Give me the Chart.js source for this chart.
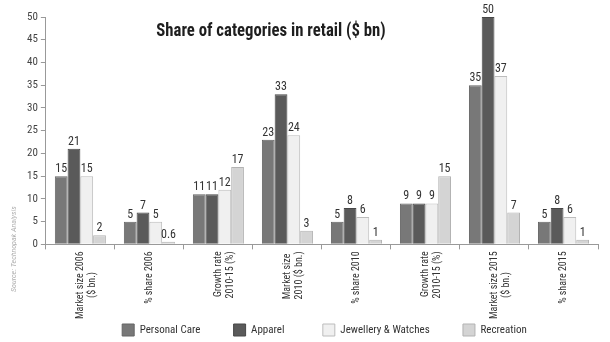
<!DOCTYPE html>
<html>
<head>
<meta charset="utf-8">
<script src="https://cdn.jsdelivr.net/npm/chart.js@4"></script>
<style>
  html, body { margin: 0; padding: 0; background: #fff; }
  #wrap { width: 610px; height: 342px; }
</style>
</head>
<body>
<div id="wrap"><canvas id="myCanvas"></canvas></div>
<script>
'use strict';

let categories = [
  ['Market size 2006', '($ bn.)'],
  '% share 2006',
  ['Growth rate', '2010-15 (%)'],
  ['Market size', '2010 ($ bn.)'],
  '% share 2010',
  ['Growth rate', '2010-15 (%)'],
  ['Market size 2015', '($ bn.)'],
  '% share 2015'
];
let personalCare = [15, 5, 11, 23, 5, 9, 35, 5];
let apparel = [21, 7, 11, 33, 8, 9, 50, 8];
let jewellery = [15, 5, 12, 24, 6, 9, 37, 6];
let recreation = [2, 0.6, 17, 3, 1, 15, 7, 1];
let yTicks = [0, 5, 10, 15, 20, 25, 30, 35, 40, 45, 50];

// distance from one legend box to the next (last one pads to the right edge)
let legendSlots = [111, 90, 139, 136];
const legendPadding = 3;
const xFont = 'condensed 10px Roboto';

// Roboto with font-stretch condensed (goes into the canvas font string)
Chart.defaults.font.family = 'Roboto';
Chart.defaults.font.weight = 'condensed';
Chart.defaults.font.size = 11;
Chart.defaults.color = '#333';

function padTo(ctx, text, target) {
  while (ctx.measureText(text + ' ').width - ctx.measureText(' ').width / 2 <= target) {
    text += ' ';
  }
  return text;
}

// labels on top of each bar
const valueLabels = {
  id: 'valueLabels',
  afterDatasetsDraw(chart) {
    const ctx = chart.ctx;
    ctx.save();
    ctx.font = 'condensed 12px Roboto';
    ctx.fillStyle = '#333';
    ctx.textAlign = 'center';
    ctx.textBaseline = 'bottom';
    chart.data.datasets.forEach((ds, i) => {
      chart.getDatasetMeta(i).data.forEach((bar, j) => {
        ctx.fillText(String(ds.data[j]), bar.x, bar.y - 1);
      });
    });
    ctx.restore();
  }
};

// title sits inside the plot, source note runs up the left edge
const extras = {
  id: 'extras',
  afterDraw(chart) {
    const ctx = chart.ctx;
    ctx.save();
    ctx.translate(271, 31);
    ctx.scale(0.93, 1);
    ctx.font = 'condensed bold 18px Roboto';
    ctx.fillStyle = '#1e1e1e';
    ctx.textAlign = 'center';
    ctx.textBaseline = 'middle';
    ctx.fillText('Share of categories in retail ($ bn)', 0, 0);
    ctx.restore();

    ctx.save();
    ctx.translate(14, 292);
    ctx.rotate(-Math.PI / 2);
    ctx.font = 'condensed italic 8px Roboto';
    ctx.fillStyle = '#b0b0b0';
    ctx.textAlign = 'left';
    ctx.fillText('Source: Technopak Analysis', 0, 0);
    ctx.restore();
  }
};

// pad legend texts with spaces so the items spread out like the original
function spreadLabels(chart) {
  const items = Chart.defaults.plugins.legend.labels.generateLabels(chart);
  const ctx = chart.ctx;
  ctx.save();
  ctx.font = 'condensed 11px Roboto';
  items.forEach((item, i) => {
    item.text = padTo(ctx, item.text, legendSlots[i] - 12 - 5.5 - legendPadding);
  });
  ctx.restore();
  return items;
}

// centre the lines of a two-line category label
function centreLines(value, index) {
  const label = categories[index];
  if (!Array.isArray(label)) {
    return label;
  }
  const ctx = this.chart.ctx;
  ctx.save();
  ctx.font = xFont;
  const widest = Math.max(...label.map(t => ctx.measureText(t).width));
  const out = label.map(t => padTo(ctx, t, ctx.measureText(t).width + (widest - ctx.measureText(t).width) / 2));
  ctx.restore();
  return out;
}

function makeSet(label, data, fill, border) {
  return {
    label: label,
    data: data,
    backgroundColor: fill,
    borderColor: border,
    borderWidth: 1,
    barPercentage: 1,
    categoryPercentage: 0.74
  };
}

const data = {
  labels: categories,
  datasets: [
    makeSet('Personal Care', personalCare, '#787878', '#646464'),
    makeSet('Apparel', apparel, '#5a5a5a', '#474747'),
    makeSet('Jewellery & Watches', jewellery, '#f0f0f0', '#bcbcbc'),
    makeSet('Recreation', recreation, '#d4d4d4', '#b3b3b3')
  ]
};

const config = {
  type: 'bar',
  data: data,
  options: {
    responsive: true,
    maintainAspectRatio: false,
    animation: false,
    layout: { padding: { left: 24, right: 12, top: 17, bottom: -4 } },
    plugins: {
      legend: {
        position: 'bottom',
        align: 'end',
        labels: {
          color: '#333',
          boxWidth: 12,
          boxHeight: 12,
          padding: legendPadding,
          generateLabels: spreadLabels
        }
      },
      tooltip: { enabled: false }
    },
    scales: {
      x: {
        grid: { offset: true, drawOnChartArea: false, tickLength: 5, color: '#999' },
        border: { color: '#999' },
        ticks: {
          maxRotation: 90,
          minRotation: 90,
          font: { size: 10 },
          color: '#333',
          padding: 2,
          callback: centreLines
        }
      },
      y: {
        min: 0,
        max: 50,
        afterBuildTicks(axis) {
          axis.ticks = yTicks.map(v => ({ value: v }));
        },
        grid: { drawOnChartArea: false, tickLength: 5, color: '#999' },
        border: { color: '#999' },
        ticks: {
          color: '#444',
          padding: 3
        }
      }
    }
  },
  plugins: [valueLabels, extras]
};

const myChart = new Chart(document.getElementById('myCanvas'), config);
</script>
</body>
</html>
